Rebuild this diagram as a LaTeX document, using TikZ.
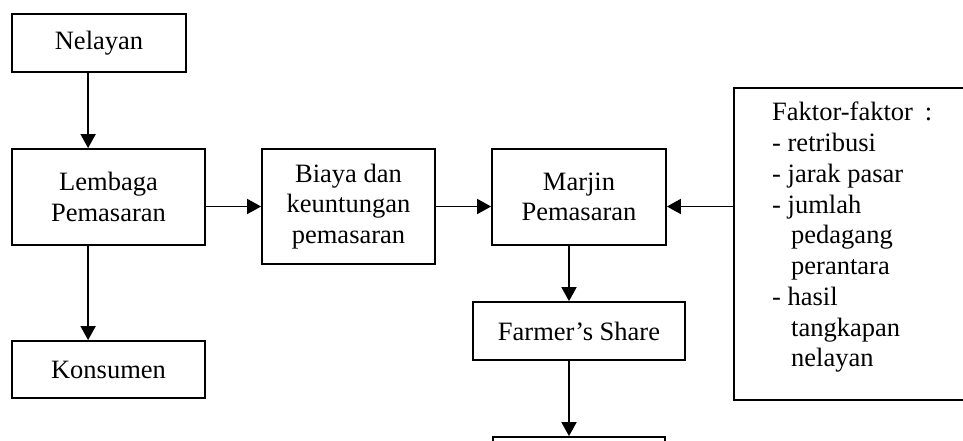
\documentclass[tikz,border=0pt]{standalone}
\usepackage{fontspec}
\setmainfont{Liberation Serif}
\usetikzlibrary{arrows.meta}
\begin{document}
\begin{tikzpicture}[x=1pt,y=-1pt,
  box/.style={draw, line width=1.8pt, rectangle, inner sep=0pt, align=center,
    font=\fontsize{26.5}{30.7}\selectfont},
  arr/.style={line width=1.8pt, -{Triangle[length=14pt,width=15pt]}}]
\useasboundingbox (0,0) rectangle (963,441);
\clip (0,0) rectangle (963,441);
\node[box, minimum width=174pt, minimum height=58pt] (nel) at (99,43) {Nelayan};
\node[box, minimum width=193pt, minimum height=96pt] (lem) at (108.5,197) {Lembaga\\Pemasaran};
\node[box, minimum width=193pt, minimum height=57pt] (kon) at (108.5,369.5) {Konsumen};
\node[box, minimum width=173pt, minimum height=115pt] (bia) at (348.5,206.5) {Biaya dan\\keuntungan\\pemasaran};
\node[box, minimum width=174pt, minimum height=96pt] (mar) at (579,197) {Marjin\\Pemasaran};
\node[box, minimum width=212pt, minimum height=58pt] (far) at (579,331) {Farmer’s Share};
\node[box, minimum width=172pt, minimum height=58pt] (bot) at (579,466) {};
\node[box, anchor=north west, minimum width=280pt, minimum height=312pt] (fak) at (733,87) {};
\node[anchor=north west, inner sep=0pt, align=left, font=\fontsize{26.5}{30.75}\selectfont] (ftxt) at (772,102) {%
Faktor-faktor\hspace{0.45em}:\\
- retribusi\\
- jarak pasar\\
- jumlah\\
\hspace*{19pt}pedagang\\
\hspace*{19pt}perantara\\
- hasil\\
\hspace*{19pt}tangkapan\\
\hspace*{19pt}nelayan};
\draw[arr] ([xshift=77pt]nel.south west) -- ([xshift=77pt]lem.north west);
\draw[arr] ([xshift=77pt]lem.south west) -- ([xshift=77pt]kon.north west);
\draw[arr] (lem.east |- bia.west) -- (bia.west);
\draw[arr] (bia.east) -- (bia.east -| mar.west);
\draw[arr] (fak.west |- bia.east) -- (mar.east |- bia.east);
\draw[arr] ([xshift=-10pt]mar.south) -- ([xshift=-10pt]far.north);
\draw[arr] ([xshift=-10pt]far.south) -- ([xshift=-10pt]bot.north);
\end{tikzpicture}
\end{document}
